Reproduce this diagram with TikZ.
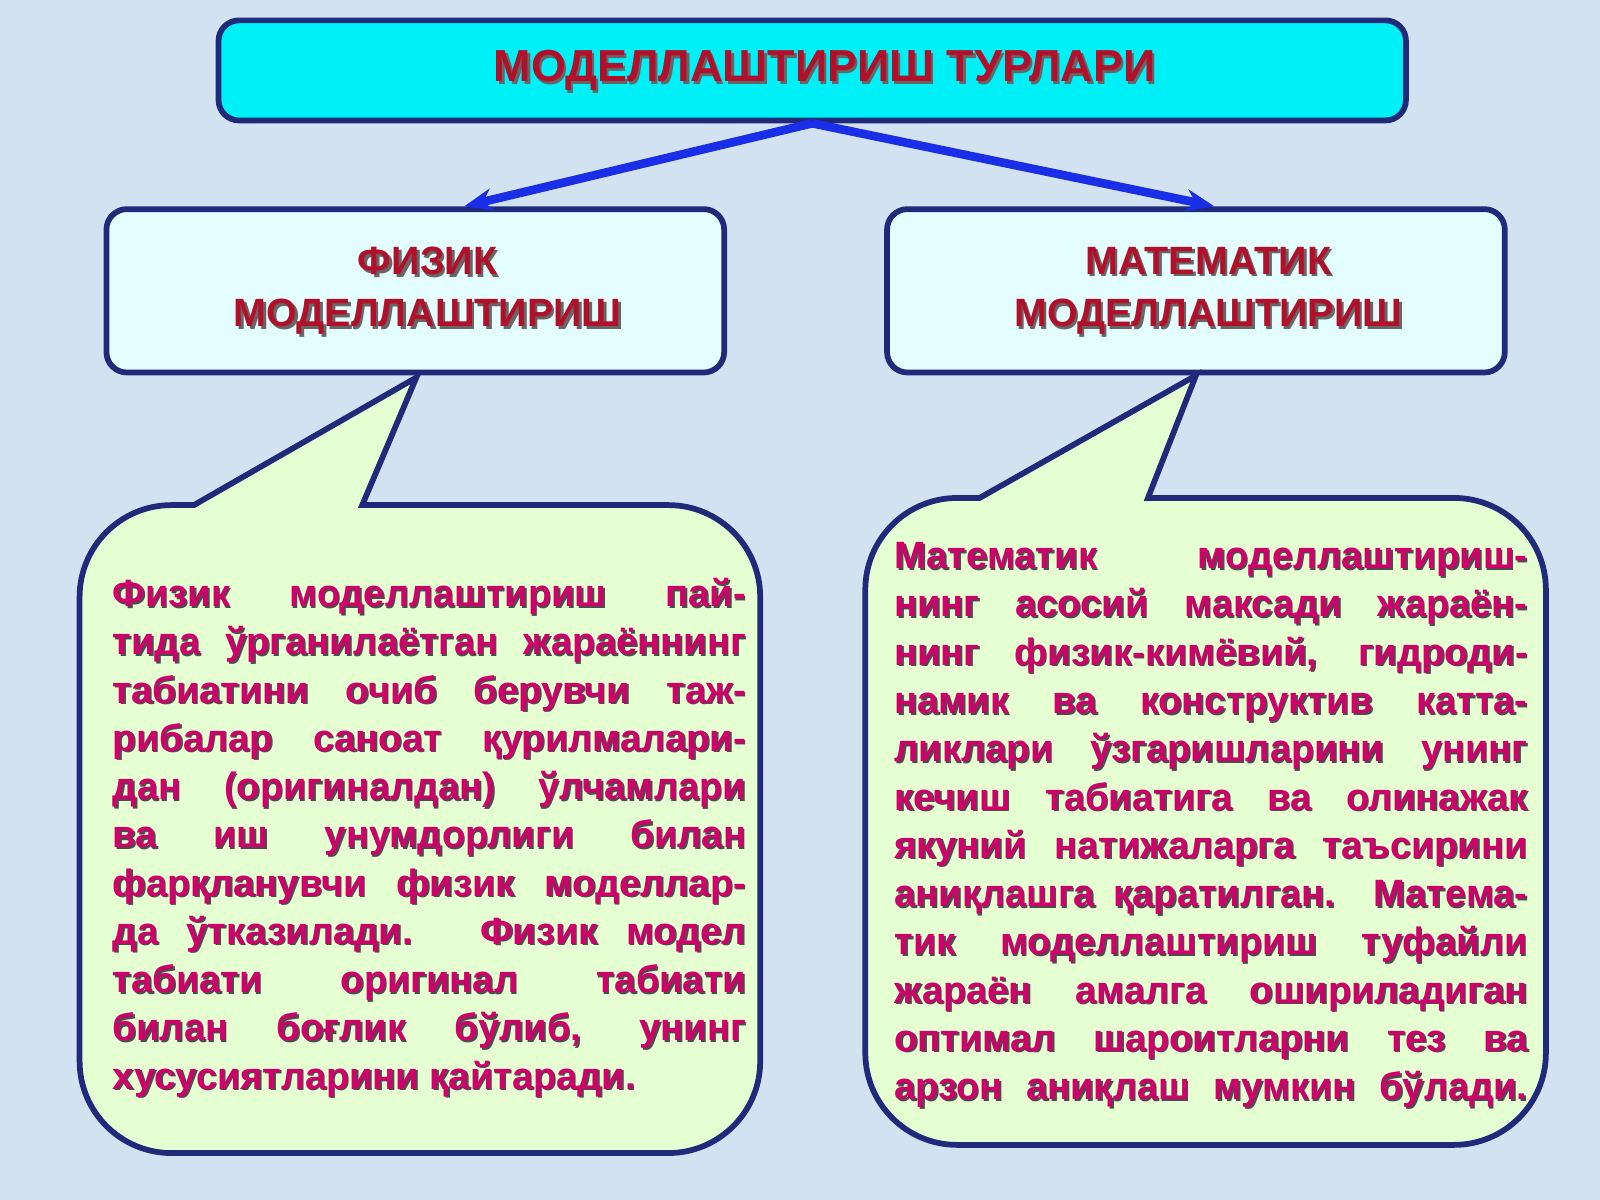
\documentclass[tikz,border=0pt]{standalone}
\usepackage{fontspec}
\setmainfont{Liberation Sans}
\usetikzlibrary{positioning,calc,arrows.meta}
\definecolor{bgblue}{HTML}{D3E2F1}
\definecolor{navy}{HTML}{1F2A7A}
\definecolor{titlecyan}{HTML}{00F0F8}
\definecolor{boxcyan}{HTML}{E4FDFF}
\definecolor{bubblegreen}{HTML}{E6FFD2}
\definecolor{darkred}{HTML}{B0102A}
\definecolor{bodypink}{HTML}{D0006A}
\definecolor{arrowblue}{HTML}{1A2EE8}
\newcommand{\physbody}{Физик моделлаштириш пай-\linebreak тида ўрганилаётган жараённинг\linebreak табиатини очиб берувчи таж-\linebreak рибалар саноат қурилмалари-\linebreak дан (оригиналдан) ўлчамлари\linebreak ва иш унумдорлиги билан\linebreak фарқланувчи физик моделлар-\linebreak да ўтказилади. Физик модел\linebreak табиати оригинал табиати\linebreak билан боғлик бўлиб, унинг\linebreak хусусиятларини қайтаради.}
\newcommand{\mathbody}{Математик моделлаштириш-\linebreak нинг асосий максади жараён-\linebreak нинг физик-кимёвий, гидроди-\linebreak намик ва конструктив катта-\linebreak ликлари ўзгаришларини унинг\linebreak кечиш табиатига ва олинажак\linebreak якуний натижаларга таъсирини\linebreak аниқлашга қаратилган. Матема-\linebreak тик моделлаштириш туфайли\linebreak жараён амалга ошириладиган\linebreak оптимал шароитларни тез ва\linebreak арзон аниқлаш мумкин бўлади.\linebreak}
\begin{document}
\begin{tikzpicture}[x=0.01cm, y=-0.01cm,
    topbox/.style={rectangle, rounded corners=0.2cm, draw=navy, line width=1.6pt, font=\fontsize{11}{14}\selectfont\bfseries, align=center},
    bubble/.style={draw=navy, line width=1.6pt, fill=bubblegreen},
    bodytext/.style={anchor=north west, inner sep=0pt, text width=6.2cm, align=justify, font=\fontsize{10.6}{13.45}\selectfont\bfseries},
    link/.style={-{Stealth[length=0.28cm,width=0.22cm]}, arrowblue, line width=2.4pt}
    ]
    \fill[bgblue] (0,0) rectangle (1568,1176);

    %Boxes
    \node[topbox, fill=titlecyan, minimum width=11.63cm, minimum height=0.98cm] (title) at (796,69) {};
    \node[topbox, fill=boxcyan, minimum width=6.05cm, minimum height=1.6cm] (physbox) at (407,285) {};
    \node[topbox, fill=boxcyan, minimum width=6.05cm, minimum height=1.6cm] (mathbox) at (1172,285) {};
    \foreach \n/\t/\s in {title/МОДЕЛЛАШТИРИШ ТУРЛАРИ/12.5, physbox/ФИЗИК\\МОДЕЛЛАШТИРИШ/11, mathbox/МАТЕМАТИК\\МОДЕЛЛАШТИРИШ/11} {
      \node[topbox, draw=none, text=black!60, font=\fontsize{\s}{14.5}\selectfont\bfseries] at ([xshift=0.12cm+0.025cm,yshift=-0.025cm]\n.center) {\t};
      \node[topbox, draw=none, text=darkred, font=\fontsize{\s}{14.5}\selectfont\bfseries] at ([xshift=0.12cm]\n.center) {\t};
    }

    %Arrows
    \draw[link] (title.south) -- ([xshift=0.48cm]physbox.north);
    \draw[link] (title.south) -- ([xshift=0.18cm]mathbox.north);

    %Bubbles
    \draw[bubble] (408,370) -- (355,495) [rounded corners=0.9cm] -- (745,495) -- (745,1130) -- (78,1130) -- (78,495) [sharp corners] -- (190,495) -- cycle;
    \draw[bubble] (1172,368) -- (1125,488) [rounded corners=0.9cm] -- (1515,488) -- (1515,1122) -- (848,1122) -- (848,488) [sharp corners] -- (960,488) -- cycle;

    %Texts
    \node[bodytext, text=black!70] at (111.5,567.5) {\physbody};
    \node[bodytext, text=bodypink] (phystext) at (110,566) {\physbody};
    \node[bodytext, text=black!70] at (877.5,532.5) {\mathbody};
    \node[bodytext, text=bodypink] (mathtext) at (876,531) {\mathbody};
\end{tikzpicture}
\end{document}
